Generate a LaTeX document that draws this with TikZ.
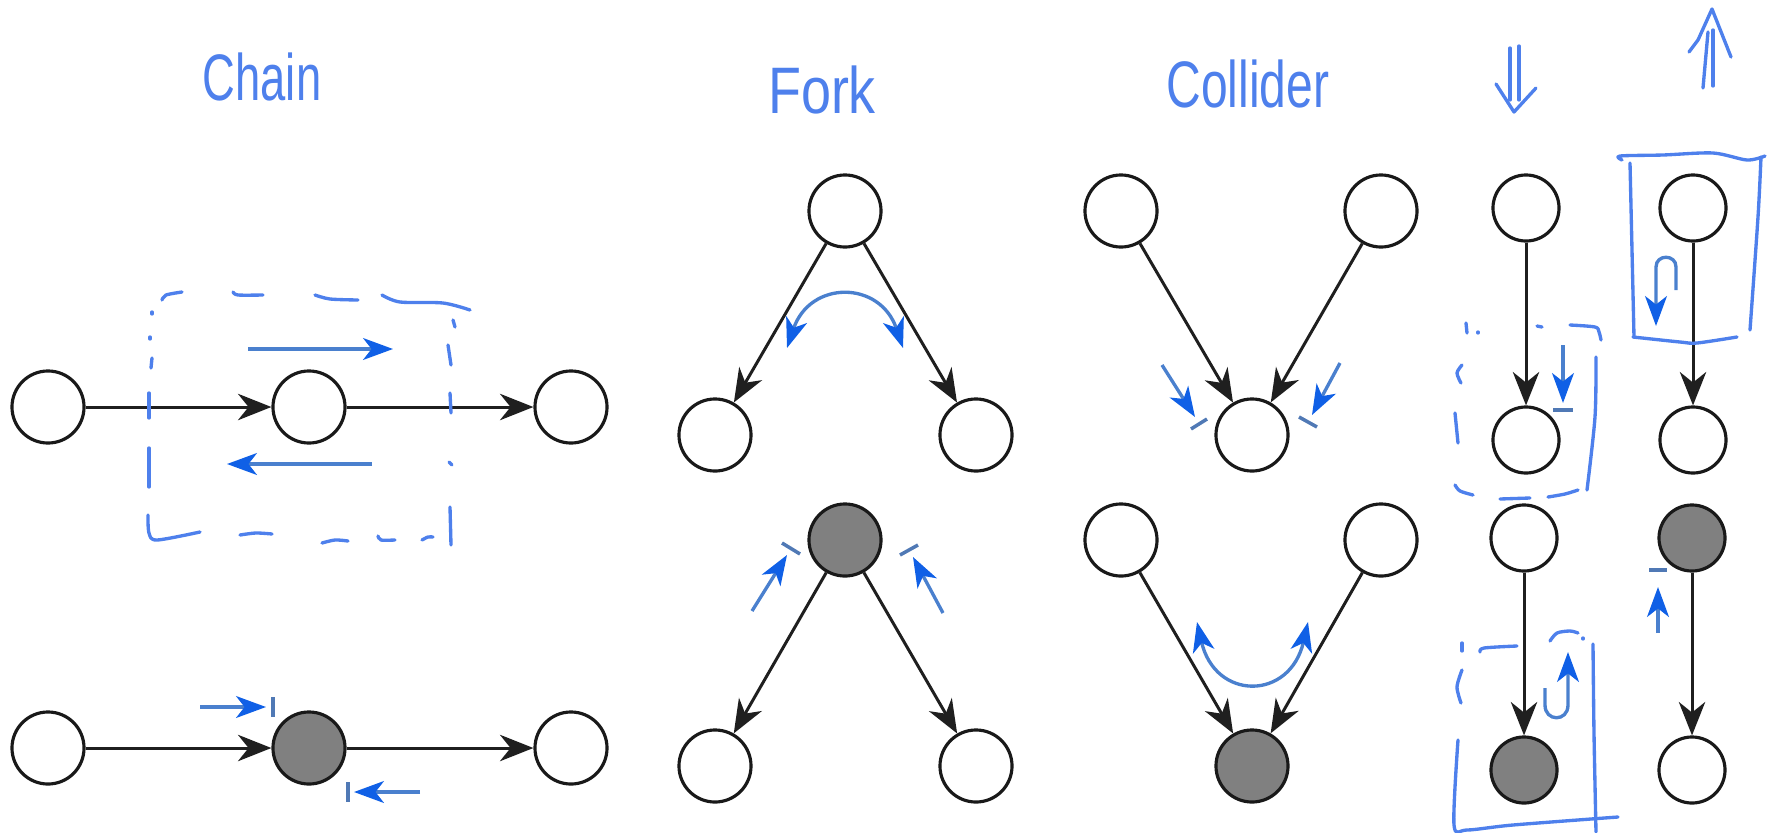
\documentclass[tikz,border=0pt]{standalone}
\usepackage{fontspec}
\setmainfont{Liberation Sans}
\usetikzlibrary{arrows.meta}
\definecolor{ink}{RGB}{78,128,236}
\definecolor{shaftblue}{RGB}{74,128,206}
\definecolor{tipblue}{RGB}{16,96,230}
\definecolor{barblue}{RGB}{80,121,181}
\definecolor{shade}{RGB}{128,128,128}
\begin{document}
\begin{tikzpicture}[x=0.01cm,y=-0.01cm,
  var/.style={circle,draw=black!90,line width=0.9pt,fill=white,minimum size=0.72cm,inner sep=0pt},
  varsm/.style={var,minimum size=0.66cm},
  obs/.style={fill=shade},
  link/.style={draw=black!88,line width=0.85pt,-{Stealth[length=9.5pt,width=7.5pt,inset=3pt]}},
  blueflow/.style={draw=shaftblue,line width=0.95pt,-{Stealth[length=8.5pt,width=6.2pt,inset=2.4pt,color=tipblue]}},
  flowboth/.style={draw=shaftblue,line width=0.95pt,arrows={Stealth[length=8.5pt,width=6.2pt,inset=2.4pt,color=tipblue]-Stealth[length=8.5pt,width=6.2pt,inset=2.4pt,color=tipblue]}},
  stopbar/.style={draw=barblue,line width=1pt},
  penline/.style={draw=ink,line width=0.95pt,line cap=round,line join=round},
  heading/.style={text=ink,font=\fontsize{18.7}{20}\selectfont,anchor=base,inner sep=0pt},
]
\useasboundingbox (0,0) rectangle (1772,833);

% ---------- headings ----------
\node[heading] (tchain) at (262,100) {\scalebox{0.69}[1]{Chain}};
\node[heading] (tfork) at (822,113) {\scalebox{0.82}[1]{Fork}};
\node[heading] (tcollider) at (1248,107) {\scalebox{0.73}[1]{Collider}};

% double arrows above the last two columns
\draw[penline] (1510,48) -- (1510,100);
\draw[penline] (1519,46) -- (1519,100);
\draw[penline] (1496,84) -- (1514,112) -- (1536,88);
\draw[penline] (1703,88) -- (1708,32);
\draw[penline] (1713,86) -- (1713,30);
\draw[penline] (1689,52) -- (1698,40) -- (1712,9) -- (1731,57);

% ---------- chain ----------
\node[var] (a1) at (48,407) {};
\node[var] (a2) at (309,407) {};
\node[var] (a3) at (571,407) {};
\draw[link] (a1) -- (a2);
\draw[link] (a2) -- (a3);
\draw[blueflow] (248,349) -- (393,349);
\draw[blueflow] (372,464) -- (227,464);

\node[var] (b1) at (48,748) {};
\node[var,obs] (b2) at (309,748) {};
\node[var] (b3) at (571,748) {};
\draw[link] (b1) -- (b2);
\draw[link] (b2) -- (b3);
\draw[blueflow] (200,707) -- (266,707);
\draw[stopbar] (273,697) -- (273,717);
\draw[blueflow] (420,792) -- (354,792);
\draw[stopbar] (348,782) -- (348,802);

% dashed frame round the middle chain node
\draw[penline] plot[smooth] coordinates {(162,300) (166,295) (182,292)};
\draw[penline] plot[smooth] coordinates {(233,292) (238,295) (263,295)};
\draw[penline] plot[smooth] coordinates {(315,295) (330,299) (358,300)};
\draw[penline] plot[smooth] coordinates {(382,295) (400,302) (443,303) (470,310)};
\draw[penline] (152,312) -- (152,314);
\draw[penline] (150,337) -- (150,339);
\draw[penline] (152,358) -- (151,368);
\draw[penline] (149,393) -- (149,418);
\draw[penline] (149,448) -- (149,487);
\draw[penline] plot[smooth] coordinates {(148,515) (149,533) (157,540) (200,532)};
\draw[penline] plot[smooth] coordinates {(240,535) (256,533) (272,534)};
\draw[penline] plot[smooth] coordinates {(322,543) (335,540) (348,541)};
\draw[penline] plot[smooth] coordinates {(378,536) (381,540) (395,540)};
\draw[penline] plot[smooth] coordinates {(422,540) (428,537) (433,537)};
\draw[penline] (453,320) -- (455,327);
\draw[penline] (448,345) -- (451,365);
\draw[penline] (450,393) -- (451,413);
\draw[penline] (449,462) -- (452,465);
\draw[penline] (450,507) -- (451,545);

% ---------- fork ----------
\node[var] (f1) at (845,211) {};
\node[var] (f2) at (715,435) {};
\node[var] (f3) at (976,435) {};
\draw[link] (f1) -- (f2);
\draw[link] (f1) -- (f3);
\draw[flowboth] (787,348) .. controls (810,280) and (880,280) .. (903,348);

\node[var,obs] (f4) at (845,540) {};
\node[var] (f5) at (715,766) {};
\node[var] (f6) at (976,766) {};
\draw[link] (f4) -- (f5);
\draw[link] (f4) -- (f6);
\draw[blueflow] (752,611) -- (787,555);
\draw[stopbar] (782,543) -- (800,554);
\draw[blueflow] (943,613) -- (913,557);
\draw[stopbar] (918,545) -- (900,555);

% ---------- collider ----------
\node[var] (c1) at (1121,211) {};
\node[var] (c2) at (1381,211) {};
\node[var] (c3) at (1252,435) {};
\draw[link] (c1) -- (c3);
\draw[link] (c2) -- (c3);
\draw[blueflow] (1162,365) -- (1195,417);
\draw[stopbar] (1207,419) -- (1191,429);
\draw[blueflow] (1340,363) -- (1312,415);
\draw[stopbar] (1317,427) -- (1299,417);

\node[var] (c4) at (1121,540) {};
\node[var] (c5) at (1381,540) {};
\node[var,obs] (c6) at (1252,766) {};
\draw[link] (c4) -- (c6);
\draw[link] (c5) -- (c6);
\draw[flowboth] (1197,622) .. controls (1215,701) and (1290,701) .. (1308,622);

% ---------- single edges, first column ----------
\node[varsm] (d1) at (1526,208) {};
\node[varsm] (d2) at (1526,440) {};
\node[varsm] (d3) at (1524,538) {};
\node[varsm,obs] (d4) at (1524,770) {};
\draw[link] (d1) -- (d2);
\draw[link] (d3) -- (d4);
\draw[blueflow] (1563,345) -- (1563,403);
\draw[stopbar] (1553,410) -- (1573,410);
\draw[blueflow] (1545,688) -- (1545,705) .. controls (1545,722) and (1568,722) .. (1568,705) -- (1568,652);

% dashed frame round the lower node of the upper pair
\draw[penline] (1466,323) -- (1467,333);
\draw[penline] (1478,332) -- (1478,333);
\draw[penline] (1537,326) -- (1542,327);
\draw[penline] plot[smooth] coordinates {(1570,325) (1595,327) (1599,332) (1601,340)};
\draw[penline] plot[smooth] coordinates {(1596,357) (1595,417) (1587,490)};
\draw[penline] plot[smooth] coordinates {(1578,490) (1565,494) (1548,497)};
\draw[penline] (1530,498) -- (1500,499);
\draw[penline] plot[smooth] coordinates {(1473,495) (1460,491) (1455,485)};
\draw[penline] (1458,443) -- (1455,413);
\draw[penline] plot[smooth] coordinates {(1461,383) (1457,373) (1462,365)};

% frame round the shaded node of the lower pair
\draw[penline] (1462,643) -- (1462,651);
\draw[penline] plot[smooth] coordinates {(1480,652) (1484,648) (1517,646)};
\draw[penline] plot[smooth] coordinates {(1462,670) (1457,687) (1461,703)};
\draw[penline] plot[smooth] coordinates {(1458,740) (1454,825) (1467,830) (1513,825) (1618,817)};
\draw[penline] plot[smooth] coordinates {(1593,644) (1594,733) (1596,832)};
\draw[penline] plot[smooth] coordinates {(1550,641) (1557,633) (1570,631) (1578,633)};
\draw[penline] (1583,638) -- (1583,639);

% ---------- single edges, second column ----------
\node[varsm] (e1) at (1693,208) {};
\node[varsm] (e2) at (1693,440) {};
\node[varsm,obs] (e3) at (1692,538) {};
\node[varsm] (e4) at (1692,770) {};
\draw[link] (e1) -- (e2);
\draw[link] (e3) -- (e4);
\draw[blueflow] (1676,290) -- (1676,267) .. controls (1676,254) and (1656,254) .. (1656,267) -- (1656,326);
\draw[blueflow] (1658,633) -- (1658,587);
\draw[stopbar] (1649,570) -- (1667,570);

% frame round the upper node
\draw[penline] plot[smooth] coordinates {(1622,160) (1620,156) (1663,155) (1713,153) (1747,160) (1765,156)};
\draw[penline] plot[smooth] coordinates {(1761,157) (1758,217) (1750,330)};
\draw[penline] plot[smooth] coordinates {(1630,163) (1632,250) (1634,337)};
\draw[penline] plot[smooth] coordinates {(1633,337) (1680,342) (1697,343) (1737,337)};
\end{tikzpicture}
\end{document}
